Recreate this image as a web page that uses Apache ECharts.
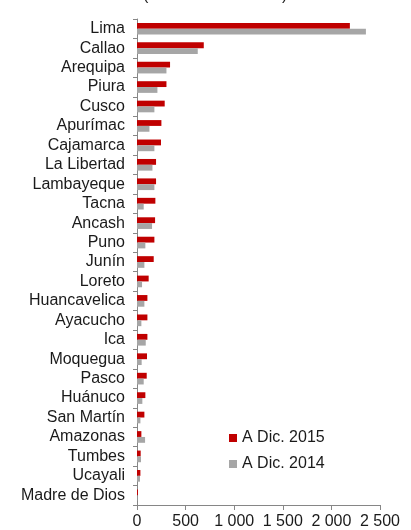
<!DOCTYPE html>
<html>
<head>
<meta charset="utf-8">
<script src="https://cdn.jsdelivr.net/npm/echarts@6/dist/echarts.min.js"></script>
<style>
  html, body { margin: 0; padding: 0; background: #fff; }
  #chart { width: 411px; height: 530px; }
</style>
</head>
<body>
<div id="chart"></div>
<script type="text/javascript">
// regiones, de arriba hacia abajo
var regiones = ['Lima', 'Callao', 'Arequipa', 'Piura', 'Cusco', 'Apurímac', 'Cajamarca',
  'La Libertad', 'Lambayeque', 'Tacna', 'Ancash', 'Puno', 'Junín', 'Loreto',
  'Huancavelica', 'Ayacucho', 'Ica', 'Moquegua', 'Pasco', 'Huánuco', 'San Martín',
  'Amazonas', 'Tumbes', 'Ucayali', 'Madre de Dios'];
var dic2015 = [2190, 687, 340, 303, 285, 251, 247, 196, 196, 189, 186, 179, 172, 120,
  107, 107, 107, 103, 100, 86, 76, 45, 38, 35, 10];
var dic2014 = [2355, 625, 303, 210, 179, 128, 179, 159, 179, 69, 155, 86, 76, 52,
  76, 45, 90, 48, 69, 55, 35, 83, 41, 31, 3];
var ejeX = [0, 500, 1000, 1500, 2000, 2500];

var chart = echarts.init(document.getElementById('chart'));
var fuente = 'Liberation Sans, Arial, sans-serif';

var option = {
  animation: false,
  textStyle: { fontFamily: fuente },
  graphic: [
    { type: 'text', left: 143, top: -12, style: { text: '(', fontSize: 16, fontFamily: fuente, fill: '#222' } },
    { type: 'text', left: 282, top: -12, style: { text: ')', fontSize: 16, fontFamily: fuente, fill: '#222' } }
  ],
  legend: {
    orient: 'vertical',
    left: 224,
    top: 425,
    itemWidth: 8,
    itemHeight: 8,
    itemGap: 10,
    icon: 'rect',
    data: ['A Dic. 2015', 'A Dic. 2014'],
    textStyle: { fontSize: 16, color: '#1a1a1a', fontFamily: fuente }
  },
  grid: { left: 137, right: 31, top: 19, bottom: 21, containLabel: false },
  xAxis: {
    type: 'value',
    min: ejeX[0],
    max: ejeX[ejeX.length - 1],
    interval: 500,
    splitLine: { show: false },
    axisLine: { show: true, lineStyle: { color: '#868686' } },
    axisTick: { show: true, length: 5, lineStyle: { color: '#868686' } },
    axisLabel: {
      fontSize: 16, color: '#1a1a1a', margin: 9,
      formatter: function (v) { return String(v).replace(/\B(?=(\d{3})+(?!\d))/g, ' '); }
    }
  },
  yAxis: {
    type: 'category',
    inverse: true,
    data: regiones,
    axisLine: { show: true, lineStyle: { color: '#868686' } },
    axisTick: { show: true, length: 4, lineStyle: { color: '#868686' } },
    axisLabel: { fontSize: 16, color: '#1a1a1a', margin: 12, interval: 0 }
  },
  series: [
    {
      name: 'A Dic. 2015',
      type: 'bar',
      data: dic2015,
      barGap: '0%',
      barCategoryGap: '40%',
      itemStyle: { color: '#C00000' }
    },
    {
      name: 'A Dic. 2014',
      type: 'bar',
      data: dic2014,
      barGap: '0%',
      barCategoryGap: '40%',
      itemStyle: { color: '#A6A6A6' }
    }
  ]
};
chart.setOption(option);
</script>
</body>
</html>
